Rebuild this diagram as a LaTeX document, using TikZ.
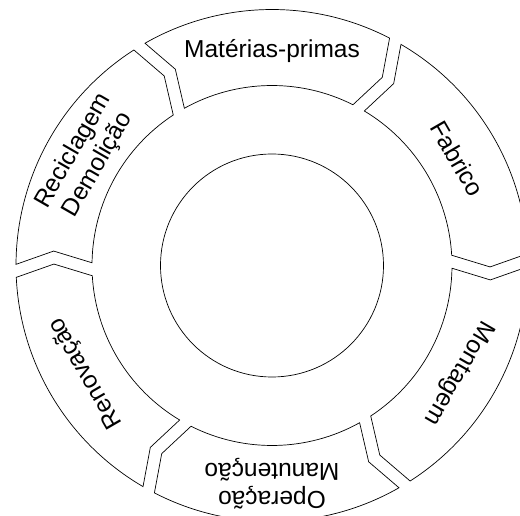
\documentclass[tikz,border=0pt]{standalone}
\usepackage{fontspec}
\setmainfont{Liberation Sans}
\usetikzlibrary{calc}

\begin{document}
\begin{tikzpicture}[x=1pt,y=1pt,
    segment/.style={draw=black,line width=0.7pt,fill=white,line join=miter},
    phaselabel/.style={font=\fontsize{24.5}{28}\selectfont,align=center,inner sep=0pt}]
    \clip (-272,-250.5) rectangle (248,265.5);
    % ring sizes
    \def\Ro{256} \def\Ri{180} \def\Rm{218}
    \def\gap{13} \def\tip{12.5} \def\rot{1.2}
    \pgfmathsetmacro{\dO}{asin(\gap/2/\Ro)}
    \pgfmathsetmacro{\dI}{asin(\gap/2/\Ri)}
    \foreach \phi [count=\i] in {90,30,-30,-90,-150,150} {
      \pgfmathsetmacro{\s}{\phi+30+\rot}
      \pgfmathsetmacro{\e}{\phi-30+\rot}
      \draw[segment] (\s-\dO:\Ro)
        arc[start angle=\s-\dO, end angle=\e+\dO, radius=\Ro]
        -- ($(\e:\Rm)+(\e-90:\tip-\gap/2)$)
        -- (\e+\dI:\Ri)
        arc[start angle=\e+\dI, end angle=\s-\dI, radius=\Ri]
        -- ($(\s:\Rm)+(\s-90:\tip+\gap/2)$) -- cycle;
    }
    \draw[segment] (0,0) circle (111.5);
    % phase names
    \node[phaselabel] (raw) at (90:214) {Matérias-primas};
    \node[phaselabel,rotate=-60] (fab) at (30:214) {Fabrico};
    \node[phaselabel,rotate=-120] (mont) at (-30:215) {Montagem};
    \node[phaselabel,rotate=180] (oper) at (-90:218) {Operação\\Manutenção};
    \node[phaselabel,rotate=120] (renov) at (-150:215) {Renovação};
    \node[phaselabel,rotate=60] (recic) at (150:215) {Reciclagem\\Demolição};
\end{tikzpicture}
\end{document}
